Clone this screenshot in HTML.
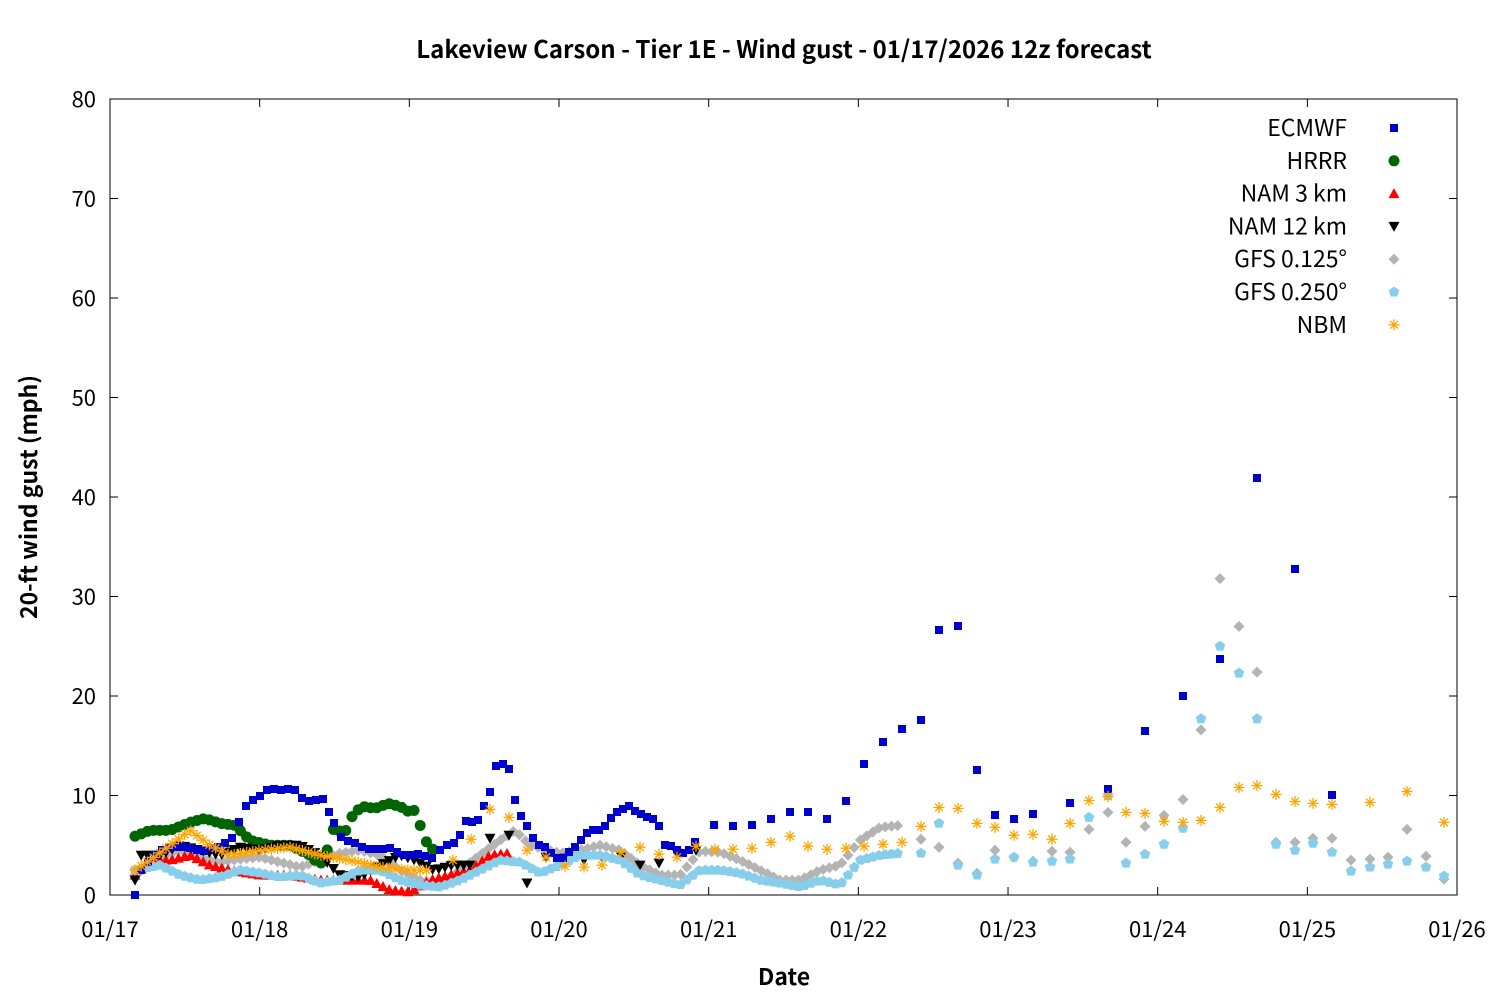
<!DOCTYPE html>
<html><head><meta charset="utf-8"><style>
html,body{margin:0;padding:0;background:#fff;}
svg{display:block;font-family:"Noto Sans CJK JP","DejaVu Sans","Liberation Sans",sans-serif;}
</style></head><body>
<svg id="s" width="1500" height="1000" xmlns="http://www.w3.org/2000/svg">
<rect width="1500" height="1000" fill="#fff"/>
<text x="784" y="58" text-anchor="middle" font-size="24" font-weight="bold">Lakeview Carson - Tier 1E - Wind gust - 01/17/2026 12z forecast</text>
<rect x="110" y="99" width="1347" height="796" fill="none" stroke="#000" stroke-width="1"/>
<g id="ax" font-size="22"></g>
<text x="784" y="985" text-anchor="middle" font-size="23" font-weight="bold">Date</text>
<text transform="translate(37,497) rotate(-90)" text-anchor="middle" font-size="23" font-weight="bold">20-ft wind gust (mph)</text>
<g id="pts"></g>
<g id="leg" font-size="23"></g>
</svg>
<script>
var NS="http://www.w3.org/2000/svg";
function el(t,a,p,txt){var e=document.createElementNS(NS,t);for(var k in a)e.setAttribute(k,a[k]);if(txt)e.textContent=txt;p.appendChild(e);return e;}
var ax=document.getElementById('ax'),P=document.getElementById('pts'),L=document.getElementById('leg');
function Y(v){return 895-v*9.95;}
for(var i=0;i<=8;i++){var y=Y(i*10);el('line',{x1:110,y1:y,x2:118,y2:y,stroke:'#000'},ax);el('line',{x1:1449,y1:y,x2:1457,y2:y,stroke:'#000'},ax);el('text',{x:96,y:y+8,'text-anchor':'end'},ax,String(i*10));}
for(var d=0;d<=9;d++){var x=110+d*149.67;el('line',{x1:x,y1:895,x2:x,y2:887,stroke:'#000'},ax);el('line',{x1:x,y1:99,x2:x,y2:107,stroke:'#000'},ax);el('text',{x:x,y:937,'text-anchor':'middle'},ax,'01/'+(17+d));}
function mk(type,x,y,c){
 if(type=='sq')el('rect',{x:x-4,y:y-4,width:8,height:8,fill:c},P);
 else if(type=='ci')el('circle',{cx:x,cy:y,r:5.5,fill:c},P);
 else if(type=='up')el('polygon',{points:(x-5.5)+','+(y+4.5)+' '+(x+5.5)+','+(y+4.5)+' '+x+','+(y-5.5),fill:c},P);
 else if(type=='dn')el('polygon',{points:(x-5.5)+','+(y-4.5)+' '+(x+5.5)+','+(y-4.5)+' '+x+','+(y+5.5),fill:c},P);
 else if(type=='di')el('polygon',{points:x+','+(y-5.5)+' '+(x+5.5)+','+y+' '+x+','+(y+5.5)+' '+(x-5.5)+','+y,fill:c},P);
 else if(type=='pe'){var pts=[];for(var k=0;k<5;k++){var a=-Math.PI/2+k*2*Math.PI/5;pts.push((x+5.5*Math.cos(a))+','+(y+5.5*Math.sin(a)));}el('polygon',{points:pts.join(' '),fill:c},P);}
 else if(type=='st'){for(var k=0;k<4;k++){var a=k*Math.PI/4;el('line',{x1:x-5.5*Math.cos(a),y1:y-5.5*Math.sin(a),x2:x+5.5*Math.cos(a),y2:y+5.5*Math.sin(a),stroke:c,'stroke-width':1.3},P);}}
}
function interp(k,x){for(var i=0;i<k.length-1;i++){if(x>=k[i][0]&&x<=k[i+1][0]){var t=(x-k[i][0])/(k[i+1][0]-k[i][0]);return k[i][1]+t*(k[i+1][1]-k[i][1]);}}return k[k.length-1][1];}
function dense(k,x0,x1,step,type,c,extra){for(var x=x0;x<=x1;x+=step)mk(type,x,Y(interp(k,x)),c);if(extra)extra.forEach(function(p){mk(type,p[0],Y(p[1]),c);});}
var g1=[[135,2],[160,3.8],[180,4.5],[200,3.8],[220,3.3],[240,3.6],[260,3.8],[280,3.3],[300,2.8],[320,3.5],[340,4.2],[360,4.5],[380,4],[400,2.5],[420,1.5],[440,1.2],[460,2.5],[480,4],[500,5.5],[515,6.5],[530,5],[560,4.2],[580,4.5],[600,5],[620,4.5],[640,3],[660,2],[680,2],[700,4.4],[720,4.3],[740,3.5],[760,2.5],[780,1.5],[800,1.5],[820,2.5],[840,3],[860,5.5],[880,6.8],[900,7]];
dense(g1,135,900,6.2,'di','#b4b4b4',[[921,5.6],[939,4.8],[958,3.2],[977,2.2],[995,4.5],[1014,3.8],[1033,3.4],[1052,4.4],[1070,4.3],[1089,6.6],[1108,8.3],[1126,5.3],[1145,6.9],[1164,8],[1183,9.6],[1201,16.6],[1220,31.8],[1239,27],[1257,22.4],[1276,5.3],[1295,5.3],[1313,5.7],[1332,5.7],[1351,3.5],[1370,3.6],[1388,3.8],[1407,6.6],[1426,3.9],[1444,1.6]]);
var n3=[[135,2],[150,3.5],[170,3.5],[190,4],[210,3],[230,2.5],[260,2],[290,2],[320,1.5],[350,1.5],[370,1.5],[390,0.5],[410,0.3],[430,1.5],[450,2],[470,2.5],[490,4],[510,4.2]];
dense(n3,135,510,6.2,'up','#ff0000');
var hr=[[135,5.9],[150,6.5],[170,6.5],[190,7.3],[205,7.7],[220,7.2],[235,7],[250,5.5],[270,5],[290,5],[310,4],[320,3],[328,4.7],[333,6.6],[345,6.3],[353,8.1],[362,8.9],[375,8.7],[388,9.2],[400,8.9],[410,8.3],[416,8.6],[422,6.3],[428,5],[434,4.5]];
dense(hr,135,434,6.2,'ci','#006400');
var n12=[[135,1.5],[141,4],[160,4],[180,5],[200,4.5],[220,4],[240,4.8],[260,4.5],[280,5],[300,5],[320,4],[340,2],[360,1.8],[380,3],[400,4],[415,3.5],[434,2.5],[453,3],[471,3]];
dense(n12,135,471,6.2,'dn','#000',[[490,5.7],[509,6],[527,1.2],[546,3.8],[565,3.7],[584,3.5],[602,3.8],[621,3.9],[640,3],[659,3.2],[677,4.2],[696,4.5]]);
var g2=[[135,2.5],[160,3],[180,2],[200,1.5],[220,1.8],[240,2.5],[260,2.2],[280,1.8],[300,2],[320,1.2],[340,1.5],[360,2.5],[380,2.5],[400,1.5],[420,1],[440,0.8],[460,1.5],[480,2.5],[500,3.5],[520,3.3],[540,2.2],[560,3],[580,4],[600,4],[620,3.5],[640,2],[660,1.5],[680,1],[700,2.5],[720,2.5],[740,2.2],[760,1.5],[780,1.2],[800,0.8],[820,1.5],[840,1],[860,3.5],[880,4],[900,4.2]];
dense(g2,135,900,6.2,'pe','#87ceeb',[[921,4.2],[939,7.2],[958,3],[977,2],[995,3.6],[1014,3.8],[1033,3.3],[1052,3.4],[1070,3.6],[1089,7.8],[1108,10],[1126,3.2],[1145,4.1],[1164,5.1],[1183,6.7],[1201,17.7],[1220,25],[1239,22.3],[1257,17.7],[1276,5.1],[1295,4.5],[1313,5.2],[1332,4.3],[1351,2.4],[1370,2.8],[1388,3.1],[1407,3.4],[1426,2.8],[1444,1.9]]);
var ec=[[135,895],[141,870],[148,862],[155,855],[162,850],[169,848],[176,847],[183,847],[190,848],[197,850],[204,851],[211,848],[218,847],[225,843],[232,838],[239,822],[246,806],[253,800],[260,796],[267,790],[274,789],[281,790],[288,789],[295,790],[302,798],[309,801],[316,800],[323,799],[329,812],[334,823],[341,837],[348,841],[355,843],[362,847],[369,849],[376,849],[383,849],[390,848],[397,852],[404,855],[411,855],[418,854],[425,856],[432,858],[440,850],[447,845],[454,843],[460,835],[466,821],[472,822],[478,820],[484,806],[490,792],[496,766],[503,764],[509,769],[515,800],[521,816],[527,826],[533,838],[539,845],[545,847],[551,853],[557,858],[563,858],[569,852],[575,847],[581,840],[587,833],[593,830],[599,830],[605,826],[611,818],[617,812],[623,809],[629,806],[635,811],[641,814],[647,817],[653,819],[659,826],[665,845],[671,846],[677,850],[683,853],[689,850],[695,842],[714,825],[733,826],[752,825],[771,819],[790,812],[808,812],[827,819],[846,801],[864,764],[883,742],[902,729],[921,720],[939,630],[958,626],[977,770],[995,815],[1014,819],[1033,814],[1070,803],[1108,789],[1145,731],[1183,696],[1220,659],[1257,478],[1295,569],[1332,795]];
ec.forEach(function(p){mk('sq',p[0],p[1],'#0000cd');});
var nb=[[135,2.5],[150,3.5],[170,5],[190,6.5],[210,5],[230,4],[260,4.5],[290,4.8],[320,4],[350,3.5],[380,2.8],[410,2.5],[430,2.5]];
dense(nb,135,430,6.2,'st','#ffa500',[[453,3.5],[471,5.6],[490,8.6],[509,7.8],[527,4.5],[546,3.8],[565,2.9],[584,2.8],[602,3],[621,4.3],[640,4.8],[659,4.1],[677,3.8],[696,4.9],[715,4.6],[733,4.6],[752,4.7],[771,5.3],[790,5.9],[808,4.9],[827,4.6],[846,4.7],[864,4.9],[883,5.1],[902,5.3],[921,6.9],[939,8.8],[958,8.7],[977,7.2],[995,6.8],[1014,6],[1033,6.1],[1052,5.6],[1070,7.2],[1089,9.5],[1108,9.9],[1126,8.3],[1145,8.2],[1164,7.4],[1183,7.3],[1201,7.5],[1220,8.8],[1239,10.8],[1257,11],[1276,10.1],[1295,9.4],[1313,9.2],[1332,9.1],[1370,9.3],[1407,10.4],[1444,7.3]]);
var lg=[['ECMWF','sq','#0000cd'],['HRRR','ci','#006400'],['NAM 3 km','up','#ff0000'],['NAM 12 km','dn','#000'],['GFS 0.125°','di','#b4b4b4'],['GFS 0.250°','pe','#87ceeb'],['NBM','st','#ffa500']];
lg.forEach(function(l,i){var y=128+i*32.8;el('text',{x:1347,y:y+8,'text-anchor':'end'},L,l[0]);mk(l[1],1394,y,l[2]);});
</script>
</body></html>
